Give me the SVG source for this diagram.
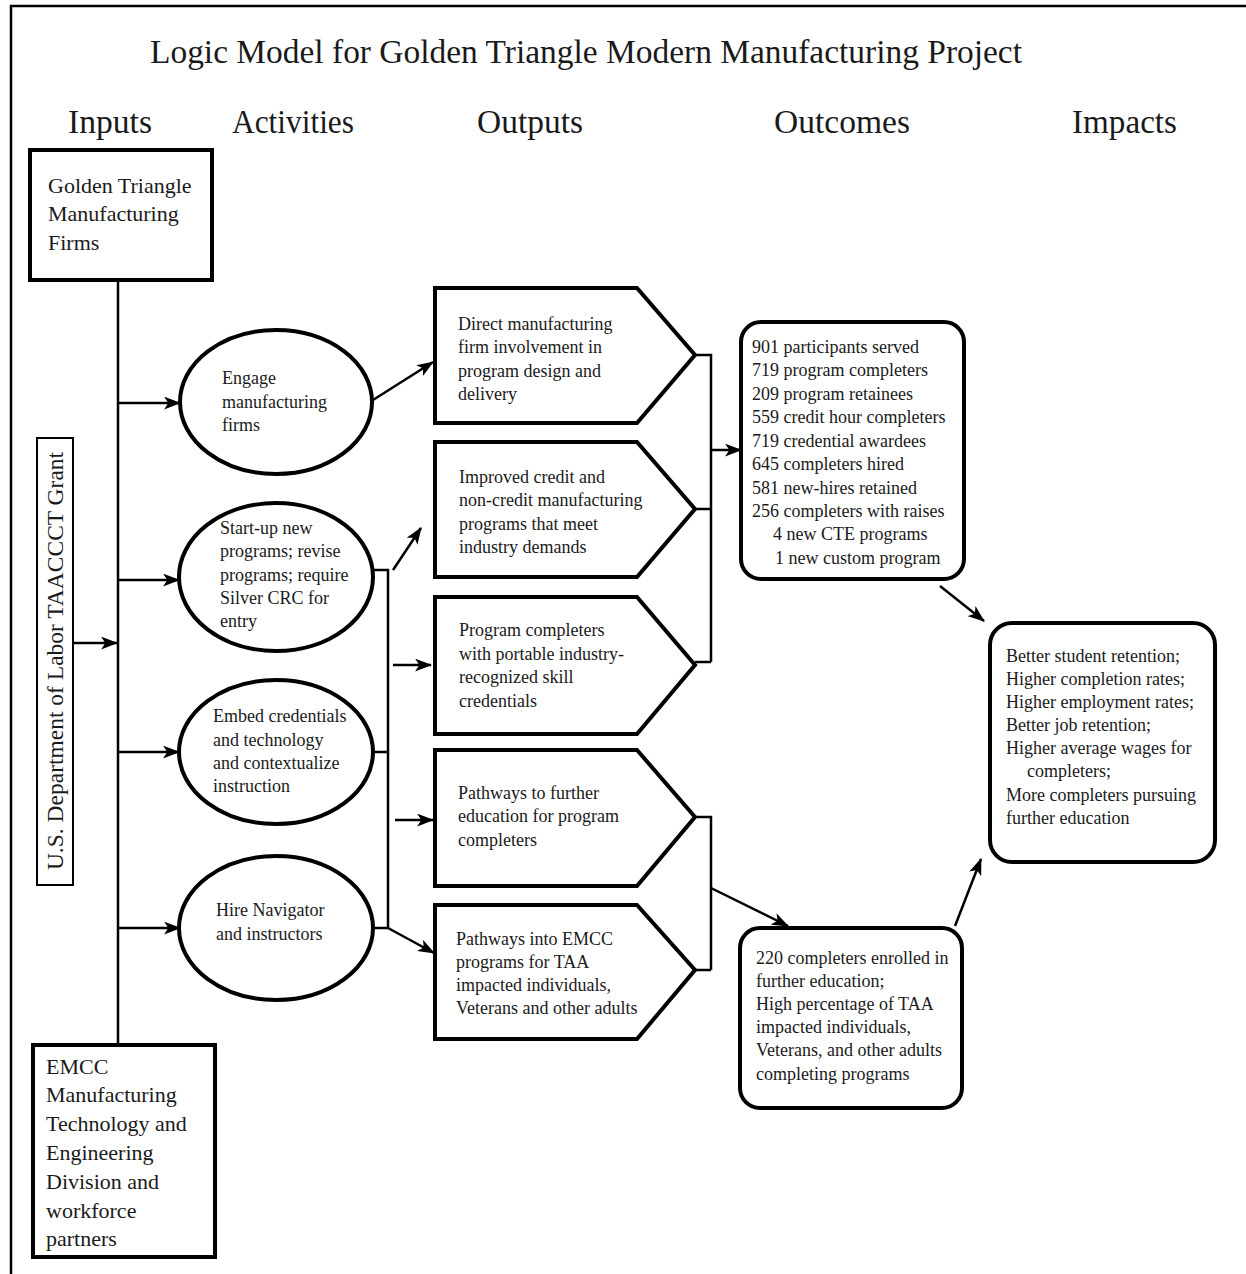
<svg xmlns="http://www.w3.org/2000/svg" width="1246" height="1274" viewBox="0 0 1246 1274">
<defs>
<style>
text{font-family:"Liberation Serif","Times New Roman",serif;fill:#1a1a1a}
.title{font-size:34px}
.head{font-size:34px}
.in{font-size:22px}
.sm{font-size:18px}
.box{fill:#fff;stroke:#000;stroke-width:4}
.ell{fill:#fff;stroke:#000;stroke-width:4}
.con{fill:none;stroke:#000;stroke-width:2.5}
.arr{fill:none;stroke:#000;stroke-width:2.5;marker-end:url(#ah)}
</style>
<marker id="ah" viewBox="0 0 16 12" refX="15" refY="6" markerWidth="17" markerHeight="13" markerUnits="userSpaceOnUse" orient="auto">
<path d="M0,0 L16,6 L0,12 L4,6 Z" fill="#000"/>
</marker>
</defs>
<rect x="0" y="0" width="1246" height="1274" fill="#fff"/>
<path d="M11,1274 V6 H1246" fill="none" stroke="#000" stroke-width="2.5"/>

<text class="title" x="150" y="63" textLength="872" lengthAdjust="spacingAndGlyphs">Logic Model for Golden Triangle Modern Manufacturing Project</text>
<g id="headers">
<text class="head" x="68" y="133" textLength="84" lengthAdjust="spacingAndGlyphs">Inputs</text>
<text class="head" x="232" y="133" textLength="122" lengthAdjust="spacingAndGlyphs">Activities</text>
<text class="head" x="477" y="133" textLength="106" lengthAdjust="spacingAndGlyphs">Outputs</text>
<text class="head" x="774" y="133" textLength="136" lengthAdjust="spacingAndGlyphs">Outcomes</text>
<text class="head" x="1072" y="133" textLength="105" lengthAdjust="spacingAndGlyphs">Impacts</text>
</g>

<g id="connectors">
<path class="con" d="M118,280 V1045"/>
<path class="arr" d="M73,643 H117"/>
<path class="arr" d="M118,403 H180"/>
<path class="arr" d="M118,580 H179"/>
<path class="arr" d="M118,752 H179"/>
<path class="arr" d="M118,928 H180"/>
<path class="arr" d="M373,400 L433,362"/>
<path class="con" d="M373,570 H388 V928 M373,752 H388 M373,928 H388"/>
<path class="arr" d="M393,570 L421,528"/>
<path class="arr" d="M393,665 H431"/>
<path class="arr" d="M395,820 H433"/>
<path class="arr" d="M388,928 L434,953"/>
<path class="con" d="M695,355 H711 V662 M695,509 H711 M695,662 H711"/>
<path class="arr" d="M711,450 H741"/>
<path class="con" d="M695,817 H711 V970 M695,970 H711"/>
<path class="arr" d="M711,888 L788,926"/>
<path class="arr" d="M940,586 L984,621"/>
<path class="arr" d="M955,926 L981,859"/>
</g>

<g id="input-firms">
<rect class="box" x="30" y="150" width="182" height="130"/>
<text class="in" x="48" y="193">Golden Triangle</text>
<text class="in" x="48" y="221">Manufacturing</text>
<text class="in" x="48" y="250">Firms</text>
</g>

<g id="input-grant">
<rect x="37" y="438" width="36" height="447" fill="#fff" stroke="#000" stroke-width="2"/>
<text transform="translate(63,661) rotate(-90)" text-anchor="middle" style="font-size:23.5px">U.S. Department of Labor TAACCCT Grant</text>
</g>

<g id="input-emcc">
<rect class="box" x="33" y="1045" width="182" height="212"/>
<text class="in" x="46" y="1074">EMCC</text>
<text class="in" x="46" y="1102">Manufacturing</text>
<text class="in" x="46" y="1131">Technology and</text>
<text class="in" x="46" y="1160">Engineering</text>
<text class="in" x="46" y="1189">Division and</text>
<text class="in" x="46" y="1218">workforce</text>
<text class="in" x="46" y="1246">partners</text>
</g>

<g id="act-engage">
<ellipse class="ell" cx="276" cy="402" rx="96" ry="72"/>
<text class="sm" x="222" y="384">Engage</text>
<text class="sm" x="222" y="408">manufacturing</text>
<text class="sm" x="222" y="431">firms</text>
</g>

<g id="act-startup">
<ellipse class="ell" cx="276" cy="577" rx="97" ry="74"/>
<text class="sm" x="220" y="534">Start-up new</text>
<text class="sm" x="220" y="557">programs; revise</text>
<text class="sm" x="220" y="581">programs; require</text>
<text class="sm" x="220" y="604">Silver CRC for</text>
<text class="sm" x="220" y="627">entry</text>
</g>

<g id="act-embed">
<ellipse class="ell" cx="276" cy="752" rx="97" ry="72"/>
<text class="sm" x="213" y="722">Embed credentials</text>
<text class="sm" x="213" y="746">and technology</text>
<text class="sm" x="213" y="769">and contextualize</text>
<text class="sm" x="213" y="792">instruction</text>
</g>

<g id="act-hire">
<ellipse class="ell" cx="276" cy="928" rx="97" ry="72"/>
<text class="sm" x="216" y="916">Hire Navigator</text>
<text class="sm" x="216" y="940">and instructors</text>
</g>

<g id="out-direct">
<path class="box" d="M435,288 H637 L695,355 L637,423 H435 Z"/>
<text class="sm" x="458" y="330">Direct manufacturing</text>
<text class="sm" x="458" y="353">firm involvement in</text>
<text class="sm" x="458" y="377">program design and</text>
<text class="sm" x="458" y="400">delivery</text>
</g>

<g id="out-improved">
<path class="box" d="M435,442 H637 L695,509 L637,577 H435 Z"/>
<text class="sm" x="459" y="483">Improved credit and</text>
<text class="sm" x="459" y="506">non-credit manufacturing</text>
<text class="sm" x="459" y="530">programs that meet</text>
<text class="sm" x="459" y="553">industry demands</text>
</g>

<g id="out-completers">
<path class="box" d="M435,597 H637 L695,665 L637,734 H435 Z"/>
<text class="sm" x="459" y="636">Program completers</text>
<text class="sm" x="459" y="660">with portable industry-</text>
<text class="sm" x="459" y="683">recognized skill</text>
<text class="sm" x="459" y="707">credentials</text>
</g>

<g id="out-pathways-further">
<path class="box" d="M435,750 H637 L695,817 L637,886 H435 Z"/>
<text class="sm" x="458" y="799">Pathways to further</text>
<text class="sm" x="458" y="822">education for program</text>
<text class="sm" x="458" y="846">completers</text>
</g>

<g id="out-pathways-emcc">
<path class="box" d="M435,905 H637 L695,970 L637,1039 H435 Z"/>
<text class="sm" x="456" y="945">Pathways into EMCC</text>
<text class="sm" x="456" y="968">programs for TAA</text>
<text class="sm" x="456" y="991">impacted individuals,</text>
<text class="sm" x="456" y="1014">Veterans and other adults</text>
</g>

<g id="outcome-numbers">
<rect class="box" x="741" y="322" width="223" height="257" rx="20" ry="20"/>
<text class="sm" x="752" y="353">901 participants served</text>
<text class="sm" x="752" y="376">719 program completers</text>
<text class="sm" x="752" y="400">209 program retainees</text>
<text class="sm" x="752" y="423">559 credit hour completers</text>
<text class="sm" x="752" y="447">719 credential awardees</text>
<text class="sm" x="752" y="470">645 completers hired</text>
<text class="sm" x="752" y="494">581 new-hires retained</text>
<text class="sm" x="752" y="517">256 completers with raises</text>
<text class="sm" x="773" y="540">4 new CTE programs</text>
<text class="sm" x="775" y="564">1 new custom program</text>
</g>

<g id="outcome-further">
<rect class="box" x="740" y="928" width="222" height="180" rx="20" ry="20"/>
<text class="sm" x="756" y="964">220 completers enrolled in</text>
<text class="sm" x="756" y="987">further education;</text>
<text class="sm" x="756" y="1010">High percentage of TAA</text>
<text class="sm" x="756" y="1033">impacted individuals,</text>
<text class="sm" x="756" y="1056">Veterans, and other adults</text>
<text class="sm" x="756" y="1080">completing programs</text>
</g>

<g id="impacts">
<rect class="box" x="990" y="623" width="225" height="239" rx="22" ry="22"/>
<text class="sm" x="1006" y="662">Better student retention;</text>
<text class="sm" x="1006" y="685">Higher completion rates;</text>
<text class="sm" x="1006" y="708">Higher employment rates;</text>
<text class="sm" x="1006" y="731">Better job retention;</text>
<text class="sm" x="1006" y="754">Higher average wages for</text>
<text class="sm" x="1027" y="777">completers;</text>
<text class="sm" x="1006" y="801">More completers pursuing</text>
<text class="sm" x="1006" y="824">further education</text>
</g>
</svg>
